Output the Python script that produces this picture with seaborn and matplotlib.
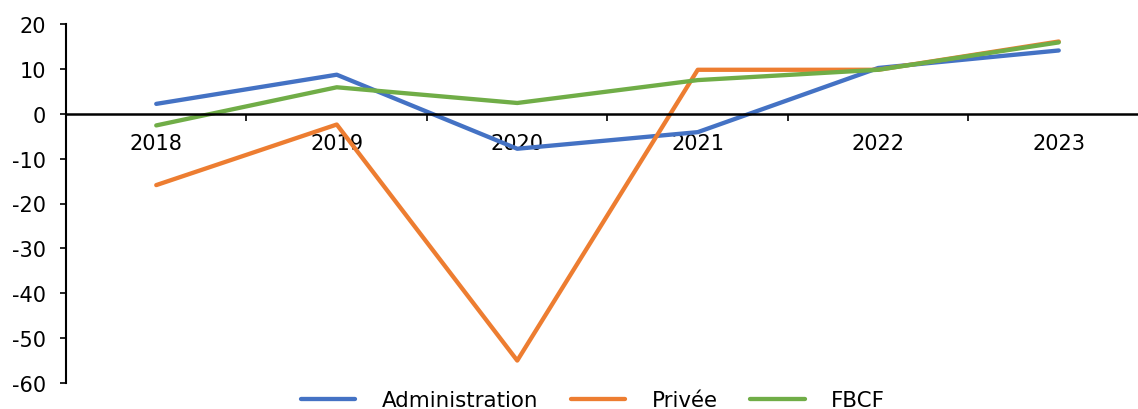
import numpy as np
import pandas as pd
import matplotlib
matplotlib.use("Agg")
import matplotlib.pyplot as plt
import seaborn as sns

# Annual growth rates (%) of investment by sector
years = ["2018", "2019", "2020", "2021", "2022", "2023"]
administration = [2.2, 8.7, -7.8, -4.1, 10.2, 14.1]
privee = [-15.9, -2.4, -55.0, 9.8, 9.8, 16.1]
fbcf = [-2.6, 5.9, 2.4, 7.5, 9.8, 15.9]
series_names = ["Administration", "Privée", "FBCF"]
colors = ["#4472C4", "#ED7D31", "#70AD47"]
y_ticks = [20, 10, 0, -10, -20, -30, -40, -50, -60]

sns.set_theme(style="white")
plt.rcParams["font.family"] = ["DejaVu Sans"]
plt.rcParams["axes.unicode_minus"] = False
plt.rcParams["text.color"] = "black"
plt.rcParams["xtick.color"] = "black"
plt.rcParams["ytick.color"] = "black"

df = pd.DataFrame({
    "year": years * 3,
    "value": administration + privee + fbcf,
    "serie": [series_names[0]] * 6 + [series_names[1]] * 6 + [series_names[2]] * 6,
})
df["pos"] = np.tile(np.arange(len(years)), 3)

fig = plt.figure(figsize=(11.38, 4.10), dpi=100)
ax = fig.add_axes([66 / 1138, 1 - 384 / 410, (1149 - 66) / 1138, (384 - 25) / 410])

lw = 3.1
sns.lineplot(data=df, x="pos", y="value", hue="serie", hue_order=series_names,
             palette=colors, linewidth=lw, ax=ax, legend=False, sort=False,
             solid_capstyle="round")

ax.set_xlim(-0.5, len(years) - 0.5)
ax.set_ylim(-60, 20)
ax.set_xlabel("")
ax.set_ylabel("")

for side in ["top", "right"]:
    ax.spines[side].set_visible(False)
ax.spines["bottom"].set_position(("data", 0))
ax.spines["bottom"].set_linewidth(1.8)
ax.spines["left"].set_linewidth(1.5)
ax.spines["bottom"].set_color("black")
ax.spines["left"].set_color("black")

ax.set_yticks(y_ticks)
ax.set_yticklabels([str(v) for v in y_ticks])
ax.tick_params(axis="y", direction="out", length=4.5, width=1.2, color="black",
               labelsize=15, pad=10, left=True, labelcolor="black")

# boundary tick marks between categories, labels at category centres
ax.set_xticks(np.arange(-0.5, len(years) + 0.5, 1.0))
ax.set_xticklabels([])
ax.tick_params(axis="x", which="major", direction="out", length=5, width=1.2,
               color="black", bottom=True)
ax.set_xticks(np.arange(len(years)), minor=True)
ax.set_xticklabels(years, minor=True)
ax.tick_params(axis="x", which="minor", length=0, labelsize=15, pad=14,
               labelcolor="black")

handles = [plt.Line2D([], [], color=c, linewidth=lw, solid_capstyle="round")
           for c in colors]
fig.legend(handles, series_names, loc="center", bbox_to_anchor=(593 / 1138, 1 - 401 / 410),
           ncol=3, frameon=False, fontsize=15.4, handlelength=2.55, handletextpad=1.25,
           columnspacing=1.5, borderaxespad=0, borderpad=0, labelcolor="black")

fig.savefig("out.png", dpi=100)
